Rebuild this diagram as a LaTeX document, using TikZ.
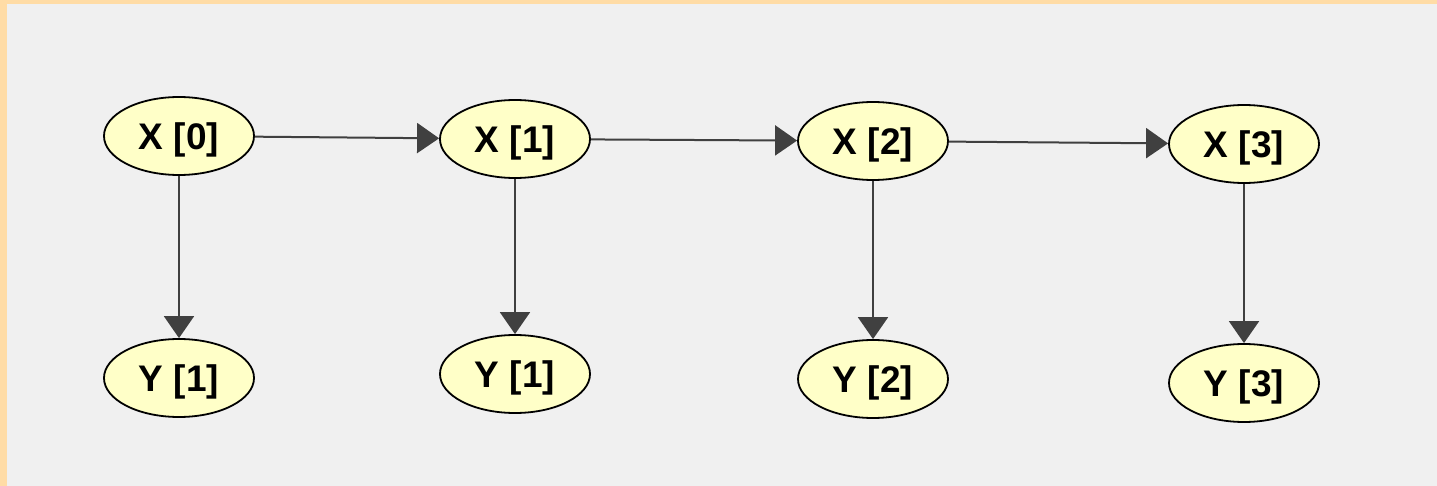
\documentclass[tikz,border=0pt]{standalone}
\usepackage{fontspec}
\setmainfont{Liberation Sans}
\usetikzlibrary{shapes.geometric,arrows.meta}
\definecolor{bgframe}{HTML}{FFDCA6}
\definecolor{bgpanel}{HTML}{F0F0F0}
\definecolor{nodefill}{HTML}{FFFFC8}
\definecolor{arrowc}{HTML}{404040}
\tikzset{
  var/.style={ellipse, draw=black, line width=1.8pt, fill=nodefill, minimum width=150pt, minimum height=78pt, inner sep=0pt, text depth=0pt, font=\bfseries\fontsize{37}{38}\selectfont},
  link/.style={draw=arrowc, line width=2pt, -{Triangle[length=22pt,width=30pt]}}
}
\begin{document}
\begin{tikzpicture}[x=1pt,y=-1pt]
\fill[bgframe] (0,0) rectangle (1437,486);
\fill[bgpanel] (7,4) rectangle (1437,486);
\useasboundingbox (0,0) rectangle (1437,486);
\node[var] (x0) at (179,136) {X [0]};
\node[var] (x1) at (515,139) {X [1]};
\node[var] (x2) at (873,141) {X [2]};
\node[var] (x3) at (1244,144) {X [3]};
\node[var] (y0) at (179,378) {Y [1]};
\node[var] (y1) at (515,374) {Y [1]};
\node[var] (y2) at (873,379) {Y [2]};
\node[var] (y3) at (1244,383) {Y [3]};
\draw[link] (x0) -- (x1);
\draw[link] (x1) -- (x2);
\draw[link] (x2) -- (x3);
\draw[link] (x0) -- (y0);
\draw[link] (x1) -- (y1);
\draw[link] (x2) -- (y2);
\draw[link] (x3) -- (y3);
\end{tikzpicture}
\end{document}
